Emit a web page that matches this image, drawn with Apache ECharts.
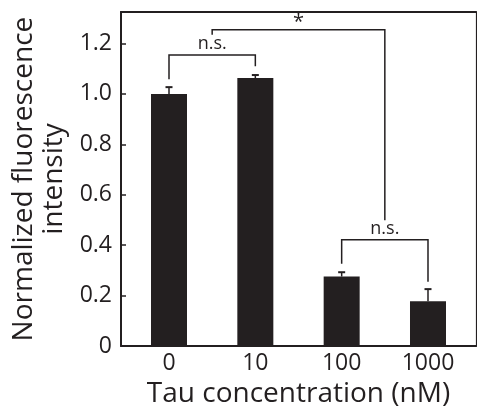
<!DOCTYPE html>
<html lang="en">

<head>
    <meta charset="UTF-8">
    <title>Normalized fluorescence vs Tau concentration</title>
    <script src="https://cdn.jsdelivr.net/npm/echarts@6.0.0/dist/echarts.min.js"></script>
    <style>
        html, body {
            margin: 0;
            padding: 0;
            background: #ffffff;
        }

        #chart {
            width: 477px;
            height: 413px;
        }
    </style>
</head>

<body>
    <div id="chart"></div>
    <script>
        var categories = ['0', '10', '100', '1000'];
        var means = [1.0, 1.063, 0.276, 0.178];
        var errTops = [1.027, 1.075, 0.293, 0.226];
        var yTicks = [0, 0.2, 0.4, 0.6, 0.8, 1.0, 1.2];

        // brackets: [xLeft, xRight, yBar, yLeftEnd, yRightEnd, label]
        var brackets = [
            [0, 1, 1.154, 1.058, 1.11, 'n.s.'],
            [0.5, 2.5, 1.255, 1.235, 0.499, '*'],
            [2, 3, 0.422, 0.327, 0.255, 'n.s.']
        ];

        var ink = '#231f20';
        var font = '"Open Sans", sans-serif';

        var myChart = echarts.init(document.getElementById('chart'));

        var option = {
            animation: false,
            grid: { left: 121, right: 1, top: 12, bottom: 63 },
            xAxis: [{
                type: 'value',
                min: -0.556,
                max: 3.556,
                position: 'bottom',
                name: 'Tau concentration (nM)',
                nameLocation: 'middle',
                nameGap: 30,
                nameTextStyle: { fontFamily: font, fontSize: 28, color: ink },
                axisLine: { onZero: false, lineStyle: { color: ink, width: 2 } },
                axisTick: { show: false },
                splitLine: { show: false },
                axisLabel: {
                    customValues: [0, 1, 2, 3],
                    formatter: function (v) { return categories[Math.round(v)]; },
                    fontFamily: font, fontSize: 23, color: ink, margin: 6
                }
            }, {
                type: 'value',
                min: -0.556,
                max: 3.556,
                position: 'top',
                axisLine: { show: true, onZero: false, lineStyle: { color: ink, width: 2.2 } },
                axisTick: { show: false },
                axisLabel: { show: false },
                splitLine: { show: false }
            }],
            yAxis: [{
                type: 'value',
                min: 0,
                max: 1.325,
                name: 'Normalized fluorescence\nintensity',
                nameLocation: 'middle',
                nameGap: 49,
                nameTextStyle: { fontFamily: font, fontSize: 28, color: ink, lineHeight: 30 },
                axisLine: { show: true, onZero: false, lineStyle: { color: ink, width: 2 } },
                axisTick: {
                    show: true, inside: true, length: 5,
                    customValues: yTicks,
                    lineStyle: { color: ink, width: 1.5 }
                },
                splitLine: { show: false },
                axisLabel: {
                    customValues: yTicks,
                    formatter: function (v) { return v === 0 ? '0' : v.toFixed(1); },
                    fontFamily: font, fontSize: 23, color: ink, margin: 9
                }
            }, {
                type: 'value',
                min: 0,
                max: 1.325,
                position: 'right',
                axisLine: { show: true, onZero: false, lineStyle: { color: ink, width: 1.2 } },
                axisTick: { show: false },
                axisLabel: { show: false },
                splitLine: { show: false }
            }],
            series: [{
                type: 'bar',
                barWidth: 36,
                itemStyle: { color: ink },
                data: means.map(function (v, i) { return [i, v]; })
            }, {
                type: 'custom',
                data: errTops.map(function (v, i) { return [i, means[i], v]; }),
                renderItem: function (params, api) {
                    var base = api.coord([api.value(0), api.value(1)]);
                    var top = api.coord([api.value(0), api.value(2)]);
                    return {
                        type: 'group',
                        children: [
                            { type: 'line', shape: { x1: base[0], y1: base[1], x2: top[0], y2: top[1] }, style: { stroke: ink, lineWidth: 1.5 } },
                            { type: 'line', shape: { x1: top[0] - 3.5, y1: top[1], x2: top[0] + 3.5, y2: top[1] }, style: { stroke: ink, lineWidth: 2 } }
                        ]
                    };
                }
            }, {
                type: 'custom',
                data: brackets,
                renderItem: function (params, api) {
                    var b = brackets[params.dataIndex];
                    var p1 = api.coord([b[0], b[3]]);
                    var p2 = api.coord([b[0], b[2]]);
                    var p3 = api.coord([b[1], b[2]]);
                    var p4 = api.coord([b[1], b[4]]);
                    var star = b[5] === '*';
                    return {
                        type: 'group',
                        children: [{
                            type: 'polyline',
                            shape: { points: [p1, p2, p3, p4] },
                            style: { stroke: ink, lineWidth: 1.5, fill: null }
                        }, {
                            type: 'text',
                            x: (p2[0] + p3[0]) / 2,
                            y: p2[1] - (star ? -3 : 2),
                            style: {
                                text: b[5],
                                fill: ink,
                                font: (star ? 20 : 18) + 'px ' + font,
                                align: 'center',
                                verticalAlign: 'bottom'
                            }
                        }]
                    };
                }
            }]
        };

        myChart.setOption(option);
    </script>
</body>

</html>
